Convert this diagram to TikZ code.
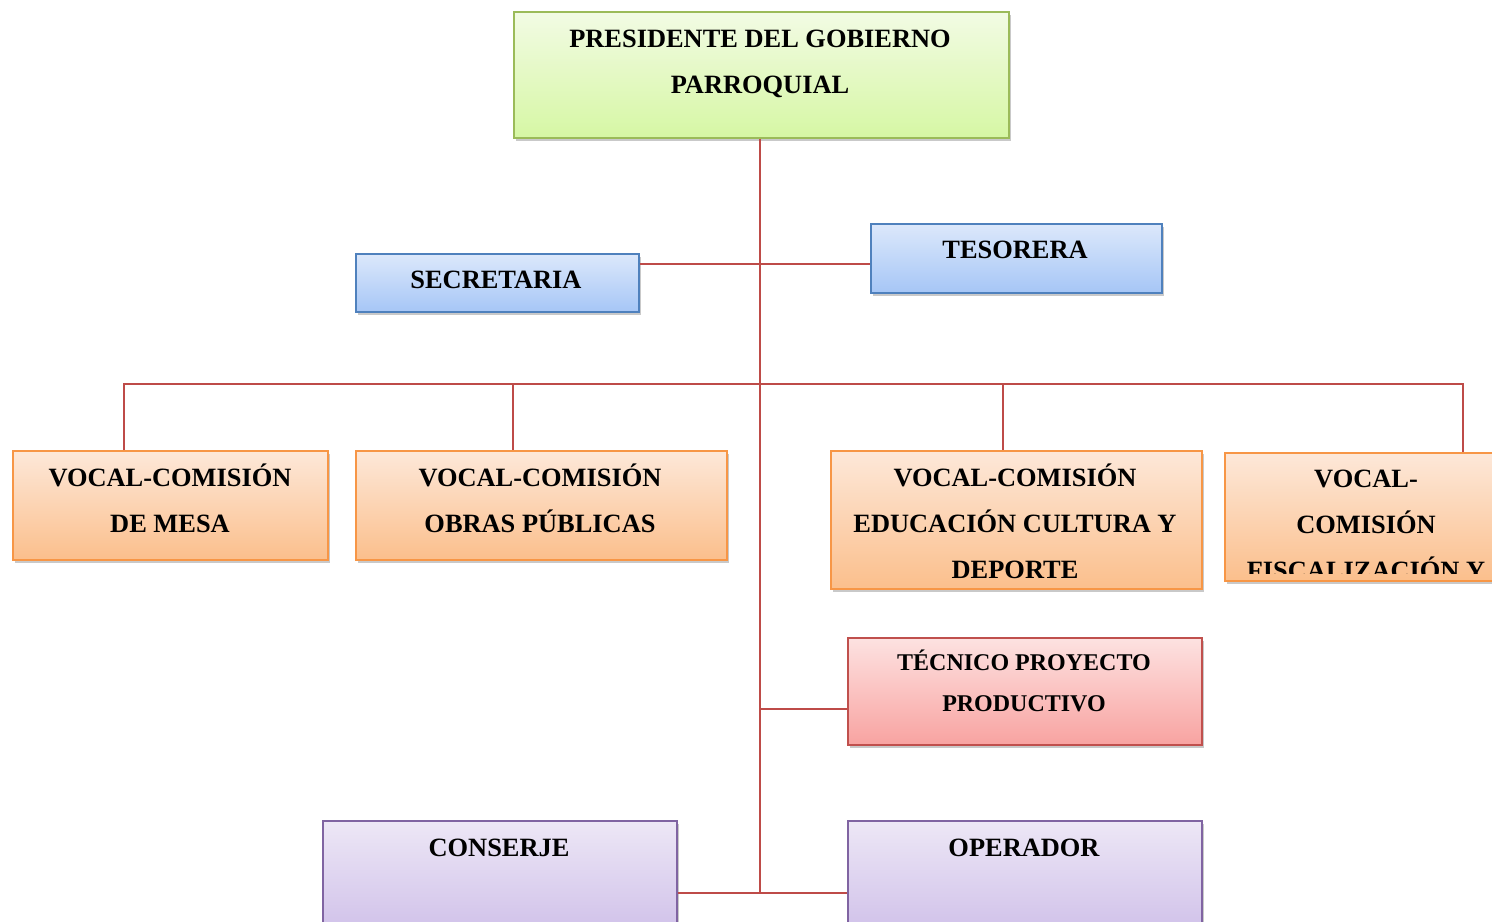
\documentclass[tikz,border=0pt]{standalone}
\usepackage{fontspec}
\setmainfont{Liberation Serif}
\usetikzlibrary{shadows}
\definecolor{gTop}{HTML}{F2FBE4}\definecolor{gBot}{HTML}{D6F7A4}\definecolor{gLine}{HTML}{9BBB59}
\definecolor{bTop}{HTML}{DCE8FB}\definecolor{bBot}{HTML}{A6C6F6}\definecolor{bLine}{HTML}{4F81BD}
\definecolor{oTop}{HTML}{FDE8D9}\definecolor{oBot}{HTML}{FBBF8C}\definecolor{oLine}{HTML}{F79646}
\definecolor{rTop}{HTML}{FDE2E1}\definecolor{rBot}{HTML}{F8A3A1}\definecolor{rLine}{HTML}{C0504D}
\definecolor{pTop}{HTML}{EDE7F6}\definecolor{pBot}{HTML}{CDBDE8}\definecolor{pLine}{HTML}{8064A2}
\definecolor{conn}{HTML}{BE4B48}
\begin{document}
\begin{tikzpicture}[x=0.5pt,y=-0.5pt,
  box/.style={draw, line width=0.8pt, anchor=north west, inner sep=0pt,
    drop shadow={shadow xshift=1.2pt, shadow yshift=-1.6pt, opacity=0.3, fill=black!70}},
  greenbox/.style={box, draw=gLine, top color=gTop, bottom color=gBot},
  bluebox/.style={box, draw=bLine, top color=bTop, bottom color=bBot},
  orangebox/.style={box, draw=oLine, top color=oTop, bottom color=oBot},
  redbox/.style={box, draw=rLine, top color=rTop, bottom color=rBot},
  purplebox/.style={box, draw=pLine, top color=pTop, bottom color=pBot},
  txt/.style={anchor=base, align=center, inner sep=0pt, font=\fontsize{13.2}{23}\selectfont\bfseries},
  smalltxt/.style={txt, font=\fontsize{12}{20.5}\selectfont\bfseries},
  link/.style={draw=conn, line width=1pt}]
\useasboundingbox (0,0) rectangle (1492,921);
\clip (0,0) rectangle (1492,921);

% boxes
\node[greenbox, minimum width=247.5pt, minimum height=63pt] (pres) at (513,11) {};
\node[bluebox, minimum width=141.5pt, minimum height=29pt] (secr) at (355,253) {};
\node[bluebox, minimum width=145.5pt, minimum height=34.5pt] (teso) at (870,223) {};
\node[orangebox, minimum width=157.5pt, minimum height=54.5pt] (v1) at (12,450) {};
\node[orangebox, minimum width=185.5pt, minimum height=54.5pt] (v2) at (355,450) {};
\node[orangebox, minimum width=185.5pt, minimum height=69pt] (v3) at (830,450) {};
\node[orangebox, minimum width=145pt, minimum height=64pt] (v4) at (1224,452) {};
\node[redbox, minimum width=177pt, minimum height=53.5pt] (tec) at (847,637) {};
\node[purplebox, minimum width=177pt, minimum height=62pt] (cons) at (322,820) {};
\node[purplebox, minimum width=177pt, minimum height=62pt] (oper) at (847,820) {};

% texts (anchor base = baseline of the last line)
\node[txt] (presT) at (760,93) {PRESIDENTE DEL GOBIERNO\\PARROQUIAL};
\node[txt] (secrT) at (496,288) {SECRETARIA};
\node[txt] (tesoT) at (1015,258) {TESORERA};
\node[txt] (v1T) at (170,532) {VOCAL-COMISIÓN\\DE MESA};
\node[txt] (v2T) at (540,532) {VOCAL-COMISIÓN\\OBRAS PÚBLICAS};
\node[txt] (v3T) at (1015,578) {VOCAL-COMISIÓN\\EDUCACIÓN CULTURA Y\\DEPORTE};
\begin{scope}
  \clip (v4.north west) rectangle ([yshift=4pt]v4.south east);
  \node[txt] (v4T) at (1366,579) {VOCAL-\\COMISIÓN\\FISCALIZACIÓN Y};
\end{scope}
\node[smalltxt] (tecT) at (1024,711) {TÉCNICO PROYECTO\\PRODUCTIVO};
\node[txt] (consT) at (499,856) {CONSERJE};
\node[txt] (operT) at (1024,856) {OPERADOR};

% junction points
\coordinate (sj) at (760,264);
\coordinate (busL) at (124,384);
\coordinate (busR) at (1463,384);
\coordinate (v2j) at (513,384);
\coordinate (v3j) at (1003,384);
\coordinate (tj) at (760,709);
\coordinate (bj) at (760,893);

% connectors
\draw[link] (pres.south -| bj) -- (bj);
\draw[link] (secr.east |- sj) -- (teso.west |- sj);
\draw[link] (v1.north -| busL) -- (busL) -- (busR) -- (v4.north -| busR);
\draw[link] (v2j) -- (v2.north -| v2j);
\draw[link] (v3j) -- (v3.north -| v3j);
\draw[link] (tj) -- (tec.west |- tj);
\draw[link] (cons.east |- bj) -- (oper.west |- bj);
\end{tikzpicture}
\end{document}
